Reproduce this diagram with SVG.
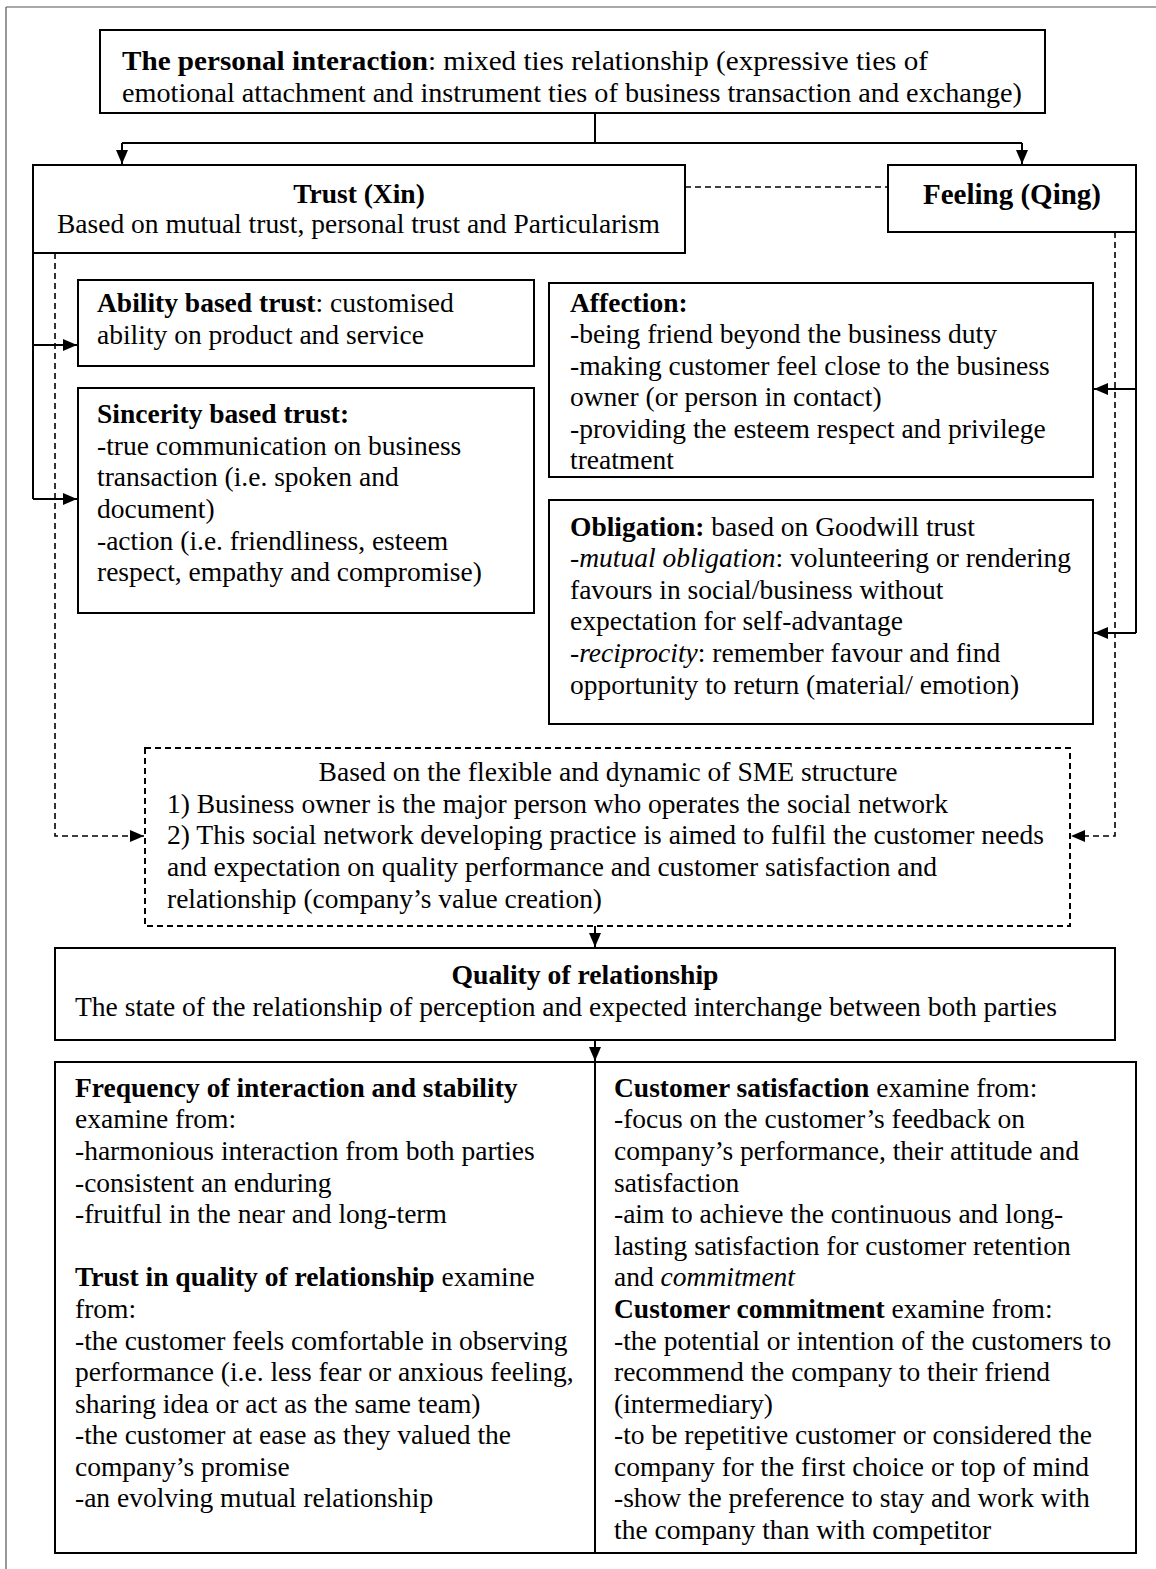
<svg xmlns="http://www.w3.org/2000/svg" width="1156" height="1569" viewBox="0 0 1156 1569">
  <style>
    text { font-family: "Liberation Serif", "Times New Roman", serif; font-size: 27.5px; fill: #000; }
    .b { font-weight: bold; }
    .i { font-style: italic; }
    .box { fill: #fff; stroke: #000; stroke-width: 2; }
    .dbox { fill: #fff; stroke: #000; stroke-width: 2; stroke-dasharray: 6 4; }
    .ln { fill: none; stroke: #000; stroke-width: 2; }
    .dl { fill: none; stroke: #000; stroke-width: 1.6; stroke-dasharray: 6 4; }
  </style>
  <defs>
    <marker id="arr" markerUnits="userSpaceOnUse" markerWidth="14" markerHeight="12" refX="14" refY="6" orient="auto">
      <path d="M0,0 L14,6 L0,12 Z" fill="#000"/>
    </marker>
  </defs>

  <rect width="1156" height="1569" fill="#fff"/>
  <!-- page frame -->
  <path d="M6,7 H1156 M6,7 V1569" fill="none" stroke="#555" stroke-width="1.2"/>

  <!-- connectors -->
  <g id="connectors">
    <path class="ln" d="M595,113 V143 M122,143 H1022"/>
    <path class="ln" d="M122,143 V164" marker-end="url(#arr)"/>
    <path class="ln" d="M1022,143 V164" marker-end="url(#arr)"/>
    <path class="dl" d="M685,187 H888"/>
    <!-- trust branches -->
    <path class="ln" d="M33,253 V499"/>
    <path class="ln" d="M33,345 H77" marker-end="url(#arr)"/>
    <path class="ln" d="M33,499 H77" marker-end="url(#arr)"/>
    <!-- feeling branches -->
    <path class="ln" d="M1136,232 V633"/>
    <path class="ln" d="M1136,389 H1094" marker-end="url(#arr)"/>
    <path class="ln" d="M1136,633 H1094" marker-end="url(#arr)"/>
    <!-- dashed links to SME structure -->
    <path class="dl" d="M55,253 V836 H144" marker-end="url(#arr)"/>
    <path class="dl" d="M1115,232 V836 H1071" marker-end="url(#arr)"/>
    <path class="ln" d="M595,926 V947" marker-end="url(#arr)"/>
    <path class="ln" d="M595,1040 V1061" marker-end="url(#arr)"/>
  </g>

  <g id="personal-interaction">
    <rect class="box" x="100" y="30" width="945" height="83"/>
    <text x="122" y="70" textLength="806" lengthAdjust="spacingAndGlyphs"><tspan class="b">The personal interaction</tspan>: mixed ties relationship (expressive ties of</text>
    <text x="122" y="102" textLength="900" lengthAdjust="spacingAndGlyphs">emotional attachment and instrument ties of business transaction and exchange)</text>
  </g>

  <g id="trust">
    <rect class="box" x="33" y="165" width="652" height="88"/>
    <text class="b" x="359" y="203" text-anchor="middle">Trust (Xin)</text>
    <text x="57" y="233" textLength="603" lengthAdjust="spacingAndGlyphs">Based on mutual trust, personal trust and Particularism</text>
  </g>

  <g id="feeling">
    <rect class="box" x="888" y="165" width="248" height="67"/>
    <text class="b" x="1012" y="204" text-anchor="middle" style="font-size:29px">Feeling (Qing)</text>
  </g>

  <g id="ability">
    <rect class="box" x="78" y="280" width="456" height="86"/>
    <text x="97" y="312"><tspan class="b">Ability based trust</tspan>: customised</text>
    <text x="97" y="344">ability on product and service</text>
  </g>

  <g id="sincerity">
    <rect class="box" x="78" y="388" width="456" height="225"/>
    <text class="b" x="97" y="423">Sincerity based trust:</text>
    <text x="97" y="455">-true communication on business</text>
    <text x="97" y="486">transaction (i.e. spoken and</text>
    <text x="97" y="518">document)</text>
    <text x="97" y="550">-action (i.e. friendliness, esteem</text>
    <text x="97" y="581">respect, empathy and compromise)</text>
  </g>

  <g id="affection">
    <rect class="box" x="549" y="283" width="544" height="194"/>
    <text class="b" x="570" y="312">Affection:</text>
    <text x="570" y="343">-being friend beyond the business duty</text>
    <text x="570" y="375">-making customer feel close to the business</text>
    <text x="570" y="406">owner (or person in contact)</text>
    <text x="570" y="438">-providing the esteem respect and privilege</text>
    <text x="570" y="469">treatment</text>
  </g>

  <g id="obligation">
    <rect class="box" x="549" y="500" width="544" height="224"/>
    <text x="570" y="536"><tspan class="b">Obligation:</tspan> based on Goodwill trust</text>
    <text x="570" y="567"><tspan class="i">-mutual obligation</tspan>: volunteering or rendering</text>
    <text x="570" y="599">favours in social/business without</text>
    <text x="570" y="630">expectation for self-advantage</text>
    <text x="570" y="662"><tspan class="i">-reciprocity</tspan>: remember favour and find</text>
    <text x="570" y="694">opportunity to return (material/ emotion)</text>
  </g>

  <g id="sme-structure">
    <rect class="dbox" x="145" y="748" width="925" height="178"/>
    <text x="608" y="781" text-anchor="middle" textLength="579" lengthAdjust="spacingAndGlyphs">Based on the flexible and dynamic of SME structure</text>
    <text x="167" y="813" textLength="781" lengthAdjust="spacingAndGlyphs">1) Business owner is the major person who operates the social network</text>
    <text x="167" y="844" textLength="877" lengthAdjust="spacingAndGlyphs">2) This social network developing practice is aimed to fulfil the customer needs</text>
    <text x="167" y="876" textLength="770" lengthAdjust="spacingAndGlyphs">and expectation on quality performance and customer satisfaction and</text>
    <text x="167" y="908" textLength="435" lengthAdjust="spacingAndGlyphs">relationship (company’s value creation)</text>
  </g>

  <g id="quality">
    <rect class="box" x="55" y="948" width="1060" height="92"/>
    <text class="b" x="585" y="984" text-anchor="middle" textLength="267" lengthAdjust="spacingAndGlyphs">Quality of relationship</text>
    <text x="75" y="1016" textLength="982" lengthAdjust="spacingAndGlyphs">The state of the relationship of perception and expected interchange between both parties</text>
  </g>

  <g id="quality-dimensions">
    <rect class="box" x="55" y="1062" width="1081" height="491"/>
    <path class="ln" d="M595,1062 V1553"/>
    <text class="b" x="75" y="1097">Frequency of interaction and stability</text>
    <text x="75" y="1128">examine from:</text>
    <text x="75" y="1160">-harmonious interaction from both parties</text>
    <text x="75" y="1192">-consistent an enduring</text>
    <text x="75" y="1223">-fruitful in the near and long-term</text>
    <text x="75" y="1286"><tspan class="b">Trust in quality of relationship</tspan> examine</text>
    <text x="75" y="1318">from:</text>
    <text x="75" y="1350">-the customer feels comfortable in observing</text>
    <text x="75" y="1381">performance (i.e. less fear or anxious feeling,</text>
    <text x="75" y="1413">sharing idea or act as the same team)</text>
    <text x="75" y="1444">-the customer at ease as they valued the</text>
    <text x="75" y="1476">company’s promise</text>
    <text x="75" y="1507">-an evolving mutual relationship</text>

    <text x="614" y="1097"><tspan class="b">Customer satisfaction</tspan> examine from:</text>
    <text x="614" y="1128">-focus on the customer’s feedback on</text>
    <text x="614" y="1160">company’s performance, their attitude and</text>
    <text x="614" y="1192">satisfaction</text>
    <text x="614" y="1223">-aim to achieve the continuous and long-</text>
    <text x="614" y="1255">lasting satisfaction for customer retention</text>
    <text x="614" y="1286">and <tspan class="i">commitment</tspan></text>
    <text x="614" y="1318"><tspan class="b">Customer commitment</tspan> examine from:</text>
    <text x="614" y="1350">-the potential or intention of the customers to</text>
    <text x="614" y="1381">recommend the company to their friend</text>
    <text x="614" y="1413">(intermediary)</text>
    <text x="614" y="1444">-to be repetitive customer or considered the</text>
    <text x="614" y="1476">company for the first choice or top of mind</text>
    <text x="614" y="1507">-show the preference to stay and work with</text>
    <text x="614" y="1539">the company than with competitor</text>
  </g>
</svg>
